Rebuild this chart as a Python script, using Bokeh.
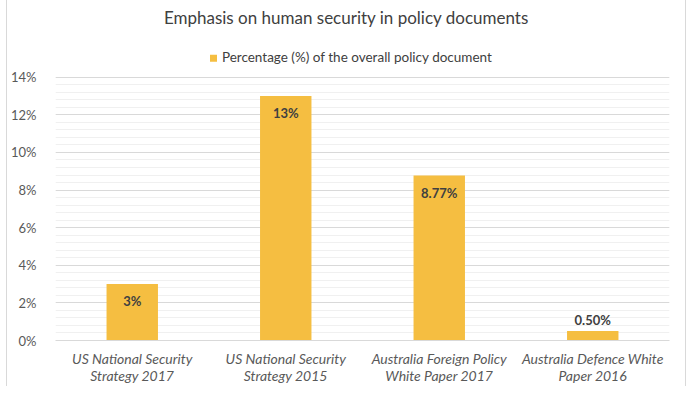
from bokeh.plotting import figure
from bokeh.models import FactorRange, Range1d, FixedTicker, ColumnDataSource
from bokeh.core.properties import value
from bokeh.embed import file_html
from bokeh.resources import INLINE

categories = ["US National Security\nStrategy 2017", "US National Security\nStrategy 2015",
              "Australia Foreign Policy\nWhite Paper 2017", "Australia Defence White\nPaper 2016"]
values = [3, 13, 8.77, 0.5]
value_labels = ["3%", "13%", "8.77%", "0.50%"]
y_ticks = [0, 2, 4, 6, 8, 10, 12, 14]
y_tick_labels = ["0%", "2%", "4%", "6%", "8%", "10%", "12%", "14%"]
title_text = "Emphasis on human security in policy documents"
legend_text = "Percentage (%) of the overall policy document"

BAR = "#F5BE41"
FONT = "Lato"
NAN = float("nan")

W, H = 692, 386
LEFT, RIGHT = 55, 23
FB = 342.9            # frame bottom (pixels from top)
P14 = 77.4            # pixel row of the 14% line
ytop = 14 * FB / (FB - P14)
cat_px = (W - LEFT - RIGHT) / len(categories)


def px_x(px):
    return (px - LEFT) / cat_px


def px_y(py):
    return ytop * (FB - py) / FB


p = figure(x_range=FactorRange(*categories, range_padding=0), y_range=Range1d(0, ytop),
           width=W, height=H, output_backend="svg", toolbar_location=None,
           min_border_left=LEFT, min_border_right=RIGHT, min_border_top=0,
           min_border_bottom=int(round(H - FB)))
p.outline_line_color = None
p.border_fill_color = None
p.styles = {"background": "linear-gradient(#d9d9d9,#d9d9d9) 6px 0/1px 100% no-repeat, "
                          "linear-gradient(#d9d9d9,#d9d9d9) 685px 0/1px 100% no-repeat, #ffffff"}

src = ColumnDataSource(dict(x=categories, top=values, lab=value_labels,
                            inside=[v if v >= 2 else NAN for v in values],
                            outside=[v if v < 2 else NAN for v in values]))
p.vbar(x="x", top="top", width=0.335, source=src, fill_color=BAR, line_color=None)

p.text(x="x", y="inside", text="lab", source=src, text_align="center", text_baseline="top",
       y_offset=9, text_font=value(FONT), text_font_size="13px", text_font_style="bold",
       text_color="#404040")
p.text(x="x", y="outside", text="lab", source=src, text_align="center", text_baseline="bottom",
       y_offset=-3, text_font=value(FONT), text_font_size="13px", text_font_style="bold",
       text_color="#404040")

# title and legend, placed above the gridded region
p.text(x=[px_x(346)], y=[px_y(16.7)], text=[title_text], text_align="center",
       text_baseline="middle", text_font=value(FONT), text_font_size="17px", text_color="#404040")
p.scatter(x=[px_x(213)], y=[px_y(58.3)], marker="square", size=7, fill_color=BAR, line_color=None)
p.text(x=[px_x(221.4)], y=[px_y(57.3)], text=[legend_text], text_align="left",
       text_baseline="middle", text_font=value(FONT), text_font_size="13.5px", text_color="#404040")

ticker = FixedTicker(ticks=y_ticks, minor_ticks=[i * 0.4 for i in range(36)])
p.yaxis.ticker = ticker
p.yaxis.major_label_overrides = {t: l for t, l in zip(y_ticks, y_tick_labels)}
p.yaxis.bounds = (0, 14)
p.yaxis.axis_line_color = None
p.yaxis.major_tick_line_color = None
p.yaxis.minor_tick_line_color = None
p.yaxis.major_tick_out = 0
p.yaxis.major_label_standoff = 15
p.yaxis.major_label_text_font = FONT
p.yaxis.major_label_text_font_size = "13px"
p.yaxis.major_label_text_color = "#595959"

p.ygrid.ticker = ticker
p.ygrid.bounds = (0, 14)
p.ygrid.grid_line_color = "#d9d9d9"
p.ygrid.minor_grid_line_color = "#f0f0f0"
p.xgrid.grid_line_color = None

p.xaxis.axis_line_color = "#d9d9d9"
p.xaxis.major_tick_line_color = None
p.xaxis.minor_tick_line_color = None
p.xaxis.major_tick_out = 0
p.xaxis.major_tick_in = 0
p.xaxis.major_label_standoff = 9
p.xaxis.major_label_text_line_height = 1.0
p.xaxis.major_label_text_font = FONT
p.xaxis.major_label_text_font_size = "14px"
p.xaxis.major_label_text_font_style = "italic"
p.xaxis.major_label_text_color = "#595959"

open("out.html", "w").write(file_html(p, INLINE))
